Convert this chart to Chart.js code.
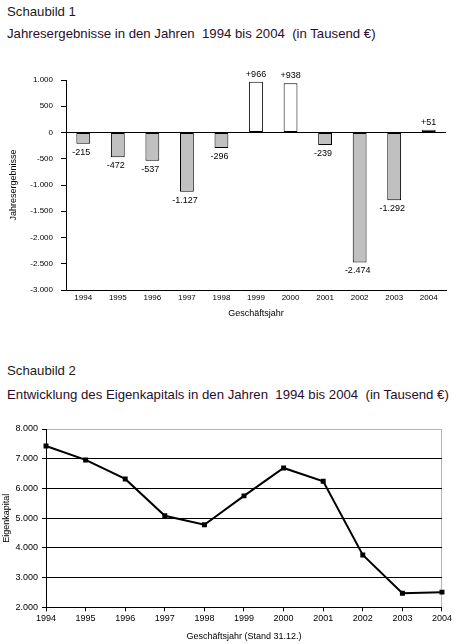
<!DOCTYPE html>
<html>
<head>
<meta charset="utf-8">
<script src="https://cdn.jsdelivr.net/npm/chart.js@4.4.0/dist/chart.umd.min.js"></script>
<style>
  body { margin: 0; background: #fff; width: 454px; height: 644px; position: relative; overflow: hidden; font-family: "Liberation Sans", Arial, sans-serif; }
  .head { position: absolute; left: 7px; font-size: 13.2px; line-height: 15px; white-space: pre; color: #1a1a1a; }
  .sub { color: #2a0d2a; }
  #wrap1 { position: absolute; left: 0; top: 60px; width: 454px; height: 270px; }
  #wrap2 { position: absolute; left: 0; top: 410px; width: 454px; height: 234px; }
</style>
</head>
<body>
<div class="head" style="top:4px">Schaubild 1</div>
<div class="head sub" style="top:26px">Jahresergebnisse in den Jahren  1994 bis 2004  (in Tausend €)</div>
<div id="wrap1"><canvas id="bar-chart"></canvas></div>

<div class="head" style="top:363px">Schaubild 2</div>
<div class="head sub" style="top:387px">Entwicklung des Eigenkapitals in den Jahren  1994 bis 2004  (in Tausend €)</div>
<div id="wrap2"><canvas id="line-chart"></canvas></div>

<script>
var jahre = ['1994', '1995', '1996', '1997', '1998', '1999', '2000', '2001', '2002', '2003', '2004'];
var ergebnisse = [-215, -472, -537, -1127, -296, 966, 938, -239, -2474, -1292, 51];
var eigenkapital = [7430, 6960, 6320, 5080, 4780, 5750, 6690, 6240, 3760, 2470, 2510];

// 1.000 statt 1,000
function fmt(v) {
  var s = Math.abs(v).toString().replace(/\B(?=(\d{3})+(?!\d))/g, '.');
  return (v < 0 ? '-' : '') + s;
}

Chart.defaults.font.family = '"Liberation Sans", Arial, sans-serif';
Chart.defaults.color = '#000';
Chart.defaults.animation = false;

// Werte an die Balken schreiben
var barLabels = {
  id: 'barLabels',
  afterDatasetsDraw: function(chart) {
    var ctx = chart.ctx;
    var meta = chart.getDatasetMeta(0);
    ctx.save();
    ctx.font = '9px "Liberation Sans", Arial, sans-serif';
    ctx.fillStyle = '#000';
    ctx.textAlign = 'center';
    meta.data.forEach(function(bar, i) {
      var v = ergebnisse[i];
      if (v >= 0) {
        ctx.textBaseline = 'bottom';
        ctx.fillText('+' + fmt(v), bar.x, bar.y - 3);
      } else {
        ctx.textBaseline = 'top';
        ctx.fillText(fmt(v), bar.x - 2, bar.y + 4);
      }
    });
    ctx.restore();
  }
};

new Chart(document.getElementById('bar-chart'), {
  type: 'bar',
  data: {
    labels: jahre,
    datasets: [{
      data: ergebnisse,
      backgroundColor: ergebnisse.map(function(v) { return v < 0 ? '#c0c0c0' : '#ffffff'; }),
      borderColor: '#000',
      borderWidth: 1,
      borderSkipped: false,
      categoryPercentage: 1,
      barPercentage: 0.4
    }]
  },
  options: {
    responsive: true,
    maintainAspectRatio: false,
    layout: { padding: { top: 20, right: 8, left: 0, bottom: 0 } },
    plugins: { legend: { display: false }, tooltip: { enabled: false } },
    scales: {
      x: {
        grid: { display: false, drawTicks: false },
        border: { display: true, color: '#000', width: 1 },
        ticks: { font: { size: 8 }, padding: 3, maxRotation: 0 },
        title: { display: true, text: 'Geschäftsjahr', font: { size: 9 }, padding: { top: 0, bottom: 11 } },
        afterFit: function(s) { s.height = 40; }
      },
      y: {
        min: -3000,
        max: 1000,
        ticks: { stepSize: 500, font: { size: 8 }, padding: 8, callback: function(v) { return fmt(v); } },
        grid: {
          color: function(c) { return c.tick && c.tick.value === 0 ? '#000' : 'rgba(0,0,0,0)'; },
          tickColor: '#000',
          tickLength: 5,
          lineWidth: 1
        },
        border: { display: true, color: '#000', width: 1 },
        title: { display: true, text: 'Jahresergebnisse', font: { size: 9 }, padding: { top: 8, bottom: 0 } },
        afterFit: function(s) { s.width = 66; }
      }
    }
  },
  plugins: [barLabels]
});

new Chart(document.getElementById('line-chart'), {
  type: 'line',
  data: {
    labels: jahre,
    datasets: [{
      data: eigenkapital,
      borderColor: '#000',
      borderWidth: 2,
      backgroundColor: '#000',
      pointStyle: 'rect',
      pointRadius: 3.5,
      pointBorderWidth: 0,
      tension: 0,
      fill: false
    }]
  },
  options: {
    responsive: true,
    maintainAspectRatio: false,
    layout: { padding: { top: 19, right: 12, left: 0, bottom: 0 } },
    plugins: { legend: { display: false }, tooltip: { enabled: false } },
    scales: {
      x: {
        offset: false,
        grid: {
          color: function(c) { return c.index === jahre.length - 1 ? '#b4b4b4' : 'rgba(0,0,0,0)'; },
          tickColor: '#000',
          tickLength: 4,
          lineWidth: 1
        },
        border: { display: true, color: '#000', width: 1 },
        ticks: { font: { size: 9 }, padding: 2, maxRotation: 0, autoSkip: false },
        title: { display: true, text: 'Geschäftsjahr (Stand 31.12.)', font: { size: 9 }, padding: { top: 0, bottom: 2 } },
        afterFit: function(s) { s.height = 36.7; }
      },
      y: {
        min: 2000,
        max: 8000,
        ticks: { stepSize: 1000, font: { size: 9 }, padding: 4, callback: function(v) { return fmt(v); } },
        grid: {
          color: function(c) { return c.tick && c.tick.value === 8000 ? '#b4b4b4' : '#000'; },
          tickColor: '#000',
          tickLength: 4,
          lineWidth: 1
        },
        border: { display: true, color: '#000', width: 1 },
        title: { display: true, text: 'Eigenkapital', font: { size: 9 }, padding: { top: 1, bottom: 0 } },
        afterFit: function(s) { s.width = 46; }
      }
    }
  }
});
</script>
</body>
</html>
